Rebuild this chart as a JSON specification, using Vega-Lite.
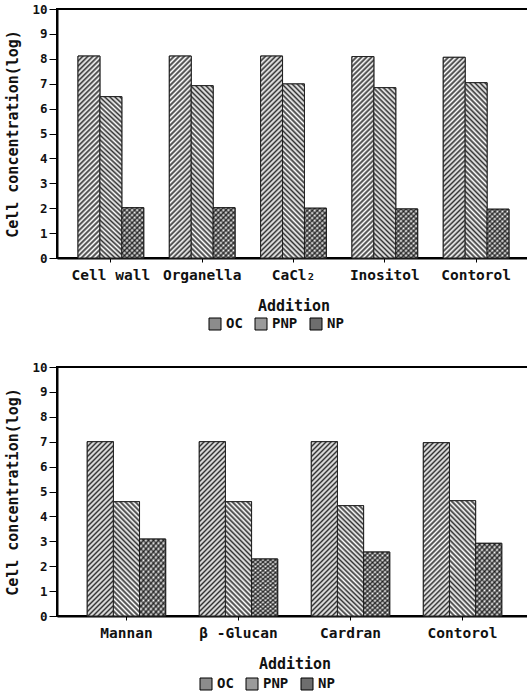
{
"$schema":"https://vega.github.io/schema/vega-lite/v6.json",
"background":"white",
"padding":{"left":4,"top":2,"right":0,"bottom":0},
"spacing":27,
"config":{
"font":"DejaVu Sans Mono",
"view":{"stroke":"#000","strokeWidth":2},
"axis":{"labelFont":"DejaVu Sans Mono","titleFont":"DejaVu Sans Mono","labelColor":"#111","titleColor":"#111","labelFontWeight":"bold","titleFontWeight":"bold","domainColor":"#000","tickColor":"#000","domainWidth":2,"grid":false},
"axisX":{"labelAngle":0,"labelFontSize":14.5,"tickSize":4,"labelPadding":6,"titleFontSize":15,"titlePadding":17,"labelOverlap":false},
"axisY":{"labelFontSize":12.5,"tickSize":8,"labelPadding":2,"titleFontSize":15,"titlePadding":11,"labelOverlap":false},
"legend":{"title":null,"direction":"horizontal","labelFont":"DejaVu Sans Mono","labelFontSize":14,"labelFontWeight":"bold","labelColor":"#111","symbolType":"square","symbolSize":144,"symbolStrokeColor":"#000","symbolStrokeWidth":1,"columnPadding":10,"labelOffset":4}
},
"resolve":{"scale":{"x":"independent","xOffset":"independent","fill":"independent"},"legend":{"fill":"independent"}},
"vconcat":[
{
"width":473,"height":249,
"data":{"values":[
{"addition":"Cell wall","series":"OC","value":8.11},{"addition":"Cell wall","series":"PNP","value":6.48},{"addition":"Cell wall","series":"NP","value":2.02},
{"addition":"Organella","series":"OC","value":8.11},{"addition":"Organella","series":"PNP","value":6.92},{"addition":"Organella","series":"NP","value":2.02},
{"addition":"CaCl₂","series":"OC","value":8.11},{"addition":"CaCl₂","series":"PNP","value":6.99},{"addition":"CaCl₂","series":"NP","value":2.0},
{"addition":"Inositol","series":"OC","value":8.09},{"addition":"Inositol","series":"PNP","value":6.84},{"addition":"Inositol","series":"NP","value":1.97},
{"addition":"Contorol","series":"OC","value":8.06},{"addition":"Contorol","series":"PNP","value":7.04},{"addition":"Contorol","series":"NP","value":1.96}
]},
"encoding":{
"x":{"field":"addition","type":"nominal","sort":["Cell wall","Organella","CaCl₂","Inositol","Contorol"],"scale":{"paddingInner":0.28,"paddingOuter":0.23},"title":"Addition"},
"xOffset":{"field":"series","type":"nominal","sort":["OC","PNP","NP"],"scale":{"domain":["OC","PNP","NP"]}},
"y":{"field":"value","type":"quantitative","scale":{"domain":[0,10]},"axis":{"values":[0,1,2,3,4,5,6,7,8,9,10]},"title":"Cell concentration(log)"}
},
"layer":[
{"mark":{"type":"bar","stroke":"#222","strokeWidth":1},
"encoding":{"fill":{"field":"series","type":"nominal","scale":{"domain":["OC","PNP","NP"],"range":["#8c8c8c","#9a9a9a","#6e6e6e"]},
"legend":{"orient":"none","legendX":151,"legendY":308}}}},
{"transform":[{"filter":"datum.series === 'OC'"}],"mark":{"type":"bar","stroke":"#222","strokeWidth":1},
"encoding":{"fill":{"value":{"gradient":"linear","x1":0,"y1":0,"x2":0.1312,"y2":1.2254,"stops":[{"offset":0,"color":"#333"},{"offset":0.01,"color":"#fff"},{"offset":0.02,"color":"#333"},{"offset":0.03,"color":"#fff"},{"offset":0.04,"color":"#333"},{"offset":0.05,"color":"#fff"},{"offset":0.06,"color":"#333"},{"offset":0.07,"color":"#fff"},{"offset":0.08,"color":"#333"},{"offset":0.09,"color":"#fff"},{"offset":0.1,"color":"#333"},{"offset":0.11,"color":"#fff"},{"offset":0.12,"color":"#333"},{"offset":0.13,"color":"#fff"},{"offset":0.14,"color":"#333"},{"offset":0.15,"color":"#fff"},{"offset":0.16,"color":"#333"},{"offset":0.17,"color":"#fff"},{"offset":0.18,"color":"#333"},{"offset":0.19,"color":"#fff"},{"offset":0.2,"color":"#333"},{"offset":0.21,"color":"#fff"},{"offset":0.22,"color":"#333"},{"offset":0.23,"color":"#fff"},{"offset":0.24,"color":"#333"},{"offset":0.25,"color":"#fff"},{"offset":0.26,"color":"#333"},{"offset":0.27,"color":"#fff"},{"offset":0.28,"color":"#333"},{"offset":0.29,"color":"#fff"},{"offset":0.3,"color":"#333"},{"offset":0.31,"color":"#fff"},{"offset":0.32,"color":"#333"},{"offset":0.33,"color":"#fff"},{"offset":0.34,"color":"#333"},{"offset":0.35,"color":"#fff"},{"offset":0.36,"color":"#333"},{"offset":0.37,"color":"#fff"},{"offset":0.38,"color":"#333"},{"offset":0.39,"color":"#fff"},{"offset":0.4,"color":"#333"},{"offset":0.41,"color":"#fff"},{"offset":0.42,"color":"#333"},{"offset":0.43,"color":"#fff"},{"offset":0.44,"color":"#333"},{"offset":0.45,"color":"#fff"},{"offset":0.46,"color":"#333"},{"offset":0.47,"color":"#fff"},{"offset":0.48,"color":"#333"},{"offset":0.49,"color":"#fff"},{"offset":0.5,"color":"#333"},{"offset":0.51,"color":"#fff"},{"offset":0.52,"color":"#333"},{"offset":0.53,"color":"#fff"},{"offset":0.54,"color":"#333"},{"offset":0.55,"color":"#fff"},{"offset":0.56,"color":"#333"},{"offset":0.57,"color":"#fff"},{"offset":0.58,"color":"#333"},{"offset":0.59,"color":"#fff"},{"offset":0.6,"color":"#333"},{"offset":0.61,"color":"#fff"},{"offset":0.62,"color":"#333"},{"offset":0.63,"color":"#fff"},{"offset":0.64,"color":"#333"},{"offset":0.65,"color":"#fff"},{"offset":0.66,"color":"#333"},{"offset":0.67,"color":"#fff"},{"offset":0.68,"color":"#333"},{"offset":0.69,"color":"#fff"},{"offset":0.7,"color":"#333"},{"offset":0.71,"color":"#fff"},{"offset":0.72,"color":"#333"},{"offset":0.73,"color":"#fff"},{"offset":0.74,"color":"#333"},{"offset":0.75,"color":"#fff"},{"offset":0.76,"color":"#333"},{"offset":0.77,"color":"#fff"},{"offset":0.78,"color":"#333"},{"offset":0.79,"color":"#fff"},{"offset":0.8,"color":"#333"},{"offset":0.81,"color":"#fff"},{"offset":0.82,"color":"#333"},{"offset":0.83,"color":"#fff"},{"offset":0.84,"color":"#333"},{"offset":0.85,"color":"#fff"},{"offset":0.86,"color":"#333"},{"offset":0.87,"color":"#fff"},{"offset":0.88,"color":"#333"},{"offset":0.89,"color":"#fff"},{"offset":0.9,"color":"#333"},{"offset":0.91,"color":"#fff"},{"offset":0.92,"color":"#333"},{"offset":0.93,"color":"#fff"},{"offset":0.94,"color":"#333"},{"offset":0.95,"color":"#fff"},{"offset":0.96,"color":"#333"},{"offset":0.97,"color":"#fff"},{"offset":0.98,"color":"#333"},{"offset":0.99,"color":"#fff"},{"offset":1,"color":"#333"}]}}}},
{"transform":[{"filter":"datum.series === 'PNP'"}],"mark":{"type":"bar","stroke":"#222","strokeWidth":1},
"encoding":{"fill":{"value":{"gradient":"linear","x1":0,"y1":1,"x2":0.1826,"y2":-0.4423,"stops":[{"offset":0,"color":"#333"},{"offset":0.01,"color":"#fff"},{"offset":0.02,"color":"#333"},{"offset":0.03,"color":"#fff"},{"offset":0.04,"color":"#333"},{"offset":0.05,"color":"#fff"},{"offset":0.06,"color":"#333"},{"offset":0.07,"color":"#fff"},{"offset":0.08,"color":"#333"},{"offset":0.09,"color":"#fff"},{"offset":0.1,"color":"#333"},{"offset":0.11,"color":"#fff"},{"offset":0.12,"color":"#333"},{"offset":0.13,"color":"#fff"},{"offset":0.14,"color":"#333"},{"offset":0.15,"color":"#fff"},{"offset":0.16,"color":"#333"},{"offset":0.17,"color":"#fff"},{"offset":0.18,"color":"#333"},{"offset":0.19,"color":"#fff"},{"offset":0.2,"color":"#333"},{"offset":0.21,"color":"#fff"},{"offset":0.22,"color":"#333"},{"offset":0.23,"color":"#fff"},{"offset":0.24,"color":"#333"},{"offset":0.25,"color":"#fff"},{"offset":0.26,"color":"#333"},{"offset":0.27,"color":"#fff"},{"offset":0.28,"color":"#333"},{"offset":0.29,"color":"#fff"},{"offset":0.3,"color":"#333"},{"offset":0.31,"color":"#fff"},{"offset":0.32,"color":"#333"},{"offset":0.33,"color":"#fff"},{"offset":0.34,"color":"#333"},{"offset":0.35,"color":"#fff"},{"offset":0.36,"color":"#333"},{"offset":0.37,"color":"#fff"},{"offset":0.38,"color":"#333"},{"offset":0.39,"color":"#fff"},{"offset":0.4,"color":"#333"},{"offset":0.41,"color":"#fff"},{"offset":0.42,"color":"#333"},{"offset":0.43,"color":"#fff"},{"offset":0.44,"color":"#333"},{"offset":0.45,"color":"#fff"},{"offset":0.46,"color":"#333"},{"offset":0.47,"color":"#fff"},{"offset":0.48,"color":"#333"},{"offset":0.49,"color":"#fff"},{"offset":0.5,"color":"#333"},{"offset":0.51,"color":"#fff"},{"offset":0.52,"color":"#333"},{"offset":0.53,"color":"#fff"},{"offset":0.54,"color":"#333"},{"offset":0.55,"color":"#fff"},{"offset":0.56,"color":"#333"},{"offset":0.57,"color":"#fff"},{"offset":0.58,"color":"#333"},{"offset":0.59,"color":"#fff"},{"offset":0.6,"color":"#333"},{"offset":0.61,"color":"#fff"},{"offset":0.62,"color":"#333"},{"offset":0.63,"color":"#fff"},{"offset":0.64,"color":"#333"},{"offset":0.65,"color":"#fff"},{"offset":0.66,"color":"#333"},{"offset":0.67,"color":"#fff"},{"offset":0.68,"color":"#333"},{"offset":0.69,"color":"#fff"},{"offset":0.7,"color":"#333"},{"offset":0.71,"color":"#fff"},{"offset":0.72,"color":"#333"},{"offset":0.73,"color":"#fff"},{"offset":0.74,"color":"#333"},{"offset":0.75,"color":"#fff"},{"offset":0.76,"color":"#333"},{"offset":0.77,"color":"#fff"},{"offset":0.78,"color":"#333"},{"offset":0.79,"color":"#fff"},{"offset":0.8,"color":"#333"},{"offset":0.81,"color":"#fff"},{"offset":0.82,"color":"#333"},{"offset":0.83,"color":"#fff"},{"offset":0.84,"color":"#333"},{"offset":0.85,"color":"#fff"},{"offset":0.86,"color":"#333"},{"offset":0.87,"color":"#fff"},{"offset":0.88,"color":"#333"},{"offset":0.89,"color":"#fff"},{"offset":0.9,"color":"#333"},{"offset":0.91,"color":"#fff"},{"offset":0.92,"color":"#333"},{"offset":0.93,"color":"#fff"},{"offset":0.94,"color":"#333"},{"offset":0.95,"color":"#fff"},{"offset":0.96,"color":"#333"},{"offset":0.97,"color":"#fff"},{"offset":0.98,"color":"#333"},{"offset":0.99,"color":"#fff"},{"offset":1,"color":"#333"}]}}}},
{"transform":[{"filter":"datum.series === 'NP'"}],"mark":{"type":"bar","stroke":"#222","strokeWidth":1},
"encoding":{"fill":{"value":{"gradient":"linear","x1":0,"y1":0,"x2":1.8326,"y2":4.225,"stops":[{"offset":0,"color":"#444"},{"offset":0.01,"color":"#fff"},{"offset":0.02,"color":"#444"},{"offset":0.03,"color":"#fff"},{"offset":0.04,"color":"#444"},{"offset":0.05,"color":"#fff"},{"offset":0.06,"color":"#444"},{"offset":0.07,"color":"#fff"},{"offset":0.08,"color":"#444"},{"offset":0.09,"color":"#fff"},{"offset":0.1,"color":"#444"},{"offset":0.11,"color":"#fff"},{"offset":0.12,"color":"#444"},{"offset":0.13,"color":"#fff"},{"offset":0.14,"color":"#444"},{"offset":0.15,"color":"#fff"},{"offset":0.16,"color":"#444"},{"offset":0.17,"color":"#fff"},{"offset":0.18,"color":"#444"},{"offset":0.19,"color":"#fff"},{"offset":0.2,"color":"#444"},{"offset":0.21,"color":"#fff"},{"offset":0.22,"color":"#444"},{"offset":0.23,"color":"#fff"},{"offset":0.24,"color":"#444"},{"offset":0.25,"color":"#fff"},{"offset":0.26,"color":"#444"},{"offset":0.27,"color":"#fff"},{"offset":0.28,"color":"#444"},{"offset":0.29,"color":"#fff"},{"offset":0.3,"color":"#444"},{"offset":0.31,"color":"#fff"},{"offset":0.32,"color":"#444"},{"offset":0.33,"color":"#fff"},{"offset":0.34,"color":"#444"},{"offset":0.35,"color":"#fff"},{"offset":0.36,"color":"#444"},{"offset":0.37,"color":"#fff"},{"offset":0.38,"color":"#444"},{"offset":0.39,"color":"#fff"},{"offset":0.4,"color":"#444"},{"offset":0.41,"color":"#fff"},{"offset":0.42,"color":"#444"},{"offset":0.43,"color":"#fff"},{"offset":0.44,"color":"#444"},{"offset":0.45,"color":"#fff"},{"offset":0.46,"color":"#444"},{"offset":0.47,"color":"#fff"},{"offset":0.48,"color":"#444"},{"offset":0.49,"color":"#fff"},{"offset":0.5,"color":"#444"},{"offset":0.51,"color":"#fff"},{"offset":0.52,"color":"#444"},{"offset":0.53,"color":"#fff"},{"offset":0.54,"color":"#444"},{"offset":0.55,"color":"#fff"},{"offset":0.56,"color":"#444"},{"offset":0.57,"color":"#fff"},{"offset":0.58,"color":"#444"},{"offset":0.59,"color":"#fff"},{"offset":0.6,"color":"#444"},{"offset":0.61,"color":"#fff"},{"offset":0.62,"color":"#444"},{"offset":0.63,"color":"#fff"},{"offset":0.64,"color":"#444"},{"offset":0.65,"color":"#fff"},{"offset":0.66,"color":"#444"},{"offset":0.67,"color":"#fff"},{"offset":0.68,"color":"#444"},{"offset":0.69,"color":"#fff"},{"offset":0.7,"color":"#444"},{"offset":0.71,"color":"#fff"},{"offset":0.72,"color":"#444"},{"offset":0.73,"color":"#fff"},{"offset":0.74,"color":"#444"},{"offset":0.75,"color":"#fff"},{"offset":0.76,"color":"#444"},{"offset":0.77,"color":"#fff"},{"offset":0.78,"color":"#444"},{"offset":0.79,"color":"#fff"},{"offset":0.8,"color":"#444"},{"offset":0.81,"color":"#fff"},{"offset":0.82,"color":"#444"},{"offset":0.83,"color":"#fff"},{"offset":0.84,"color":"#444"},{"offset":0.85,"color":"#fff"},{"offset":0.86,"color":"#444"},{"offset":0.87,"color":"#fff"},{"offset":0.88,"color":"#444"},{"offset":0.89,"color":"#fff"},{"offset":0.9,"color":"#444"},{"offset":0.91,"color":"#fff"},{"offset":0.92,"color":"#444"},{"offset":0.93,"color":"#fff"},{"offset":0.94,"color":"#444"},{"offset":0.95,"color":"#fff"},{"offset":0.96,"color":"#444"},{"offset":0.97,"color":"#fff"},{"offset":0.98,"color":"#444"},{"offset":0.99,"color":"#fff"},{"offset":1,"color":"#444"}]}}}},
{"transform":[{"filter":"datum.series === 'NP'"}],"mark":{"type":"bar"},
"encoding":{"fill":{"value":{"gradient":"linear","x1":0,"y1":1,"x2":1.8326,"y2":-3.225,"stops":[{"offset":0,"color":"rgba(0,0,0,0.6)"},{"offset":0.01,"color":"rgba(0,0,0,0)"},{"offset":0.02,"color":"rgba(0,0,0,0.6)"},{"offset":0.03,"color":"rgba(0,0,0,0)"},{"offset":0.04,"color":"rgba(0,0,0,0.6)"},{"offset":0.05,"color":"rgba(0,0,0,0)"},{"offset":0.06,"color":"rgba(0,0,0,0.6)"},{"offset":0.07,"color":"rgba(0,0,0,0)"},{"offset":0.08,"color":"rgba(0,0,0,0.6)"},{"offset":0.09,"color":"rgba(0,0,0,0)"},{"offset":0.1,"color":"rgba(0,0,0,0.6)"},{"offset":0.11,"color":"rgba(0,0,0,0)"},{"offset":0.12,"color":"rgba(0,0,0,0.6)"},{"offset":0.13,"color":"rgba(0,0,0,0)"},{"offset":0.14,"color":"rgba(0,0,0,0.6)"},{"offset":0.15,"color":"rgba(0,0,0,0)"},{"offset":0.16,"color":"rgba(0,0,0,0.6)"},{"offset":0.17,"color":"rgba(0,0,0,0)"},{"offset":0.18,"color":"rgba(0,0,0,0.6)"},{"offset":0.19,"color":"rgba(0,0,0,0)"},{"offset":0.2,"color":"rgba(0,0,0,0.6)"},{"offset":0.21,"color":"rgba(0,0,0,0)"},{"offset":0.22,"color":"rgba(0,0,0,0.6)"},{"offset":0.23,"color":"rgba(0,0,0,0)"},{"offset":0.24,"color":"rgba(0,0,0,0.6)"},{"offset":0.25,"color":"rgba(0,0,0,0)"},{"offset":0.26,"color":"rgba(0,0,0,0.6)"},{"offset":0.27,"color":"rgba(0,0,0,0)"},{"offset":0.28,"color":"rgba(0,0,0,0.6)"},{"offset":0.29,"color":"rgba(0,0,0,0)"},{"offset":0.3,"color":"rgba(0,0,0,0.6)"},{"offset":0.31,"color":"rgba(0,0,0,0)"},{"offset":0.32,"color":"rgba(0,0,0,0.6)"},{"offset":0.33,"color":"rgba(0,0,0,0)"},{"offset":0.34,"color":"rgba(0,0,0,0.6)"},{"offset":0.35,"color":"rgba(0,0,0,0)"},{"offset":0.36,"color":"rgba(0,0,0,0.6)"},{"offset":0.37,"color":"rgba(0,0,0,0)"},{"offset":0.38,"color":"rgba(0,0,0,0.6)"},{"offset":0.39,"color":"rgba(0,0,0,0)"},{"offset":0.4,"color":"rgba(0,0,0,0.6)"},{"offset":0.41,"color":"rgba(0,0,0,0)"},{"offset":0.42,"color":"rgba(0,0,0,0.6)"},{"offset":0.43,"color":"rgba(0,0,0,0)"},{"offset":0.44,"color":"rgba(0,0,0,0.6)"},{"offset":0.45,"color":"rgba(0,0,0,0)"},{"offset":0.46,"color":"rgba(0,0,0,0.6)"},{"offset":0.47,"color":"rgba(0,0,0,0)"},{"offset":0.48,"color":"rgba(0,0,0,0.6)"},{"offset":0.49,"color":"rgba(0,0,0,0)"},{"offset":0.5,"color":"rgba(0,0,0,0.6)"},{"offset":0.51,"color":"rgba(0,0,0,0)"},{"offset":0.52,"color":"rgba(0,0,0,0.6)"},{"offset":0.53,"color":"rgba(0,0,0,0)"},{"offset":0.54,"color":"rgba(0,0,0,0.6)"},{"offset":0.55,"color":"rgba(0,0,0,0)"},{"offset":0.56,"color":"rgba(0,0,0,0.6)"},{"offset":0.57,"color":"rgba(0,0,0,0)"},{"offset":0.58,"color":"rgba(0,0,0,0.6)"},{"offset":0.59,"color":"rgba(0,0,0,0)"},{"offset":0.6,"color":"rgba(0,0,0,0.6)"},{"offset":0.61,"color":"rgba(0,0,0,0)"},{"offset":0.62,"color":"rgba(0,0,0,0.6)"},{"offset":0.63,"color":"rgba(0,0,0,0)"},{"offset":0.64,"color":"rgba(0,0,0,0.6)"},{"offset":0.65,"color":"rgba(0,0,0,0)"},{"offset":0.66,"color":"rgba(0,0,0,0.6)"},{"offset":0.67,"color":"rgba(0,0,0,0)"},{"offset":0.68,"color":"rgba(0,0,0,0.6)"},{"offset":0.69,"color":"rgba(0,0,0,0)"},{"offset":0.7,"color":"rgba(0,0,0,0.6)"},{"offset":0.71,"color":"rgba(0,0,0,0)"},{"offset":0.72,"color":"rgba(0,0,0,0.6)"},{"offset":0.73,"color":"rgba(0,0,0,0)"},{"offset":0.74,"color":"rgba(0,0,0,0.6)"},{"offset":0.75,"color":"rgba(0,0,0,0)"},{"offset":0.76,"color":"rgba(0,0,0,0.6)"},{"offset":0.77,"color":"rgba(0,0,0,0)"},{"offset":0.78,"color":"rgba(0,0,0,0.6)"},{"offset":0.79,"color":"rgba(0,0,0,0)"},{"offset":0.8,"color":"rgba(0,0,0,0.6)"},{"offset":0.81,"color":"rgba(0,0,0,0)"},{"offset":0.82,"color":"rgba(0,0,0,0.6)"},{"offset":0.83,"color":"rgba(0,0,0,0)"},{"offset":0.84,"color":"rgba(0,0,0,0.6)"},{"offset":0.85,"color":"rgba(0,0,0,0)"},{"offset":0.86,"color":"rgba(0,0,0,0.6)"},{"offset":0.87,"color":"rgba(0,0,0,0)"},{"offset":0.88,"color":"rgba(0,0,0,0.6)"},{"offset":0.89,"color":"rgba(0,0,0,0)"},{"offset":0.9,"color":"rgba(0,0,0,0.6)"},{"offset":0.91,"color":"rgba(0,0,0,0)"},{"offset":0.92,"color":"rgba(0,0,0,0.6)"},{"offset":0.93,"color":"rgba(0,0,0,0)"},{"offset":0.94,"color":"rgba(0,0,0,0.6)"},{"offset":0.95,"color":"rgba(0,0,0,0)"},{"offset":0.96,"color":"rgba(0,0,0,0.6)"},{"offset":0.97,"color":"rgba(0,0,0,0)"},{"offset":0.98,"color":"rgba(0,0,0,0.6)"},{"offset":0.99,"color":"rgba(0,0,0,0)"},{"offset":1,"color":"rgba(0,0,0,0.6)"}]}}}}
]
},
{
"width":475,"height":249,
"data":{"values":[
{"addition":"Mannan","series":"OC","value":7.0},{"addition":"Mannan","series":"PNP","value":4.59},{"addition":"Mannan","series":"NP","value":3.09},
{"addition":"β -Glucan","series":"OC","value":7.0},{"addition":"β -Glucan","series":"PNP","value":4.59},{"addition":"β -Glucan","series":"NP","value":2.29},
{"addition":"Cardran","series":"OC","value":7.0},{"addition":"Cardran","series":"PNP","value":4.43},{"addition":"Cardran","series":"NP","value":2.57},
{"addition":"Contorol","series":"OC","value":6.96},{"addition":"Contorol","series":"PNP","value":4.63},{"addition":"Contorol","series":"NP","value":2.92}
]},
"encoding":{
"x":{"field":"addition","type":"nominal","sort":["Mannan","β -Glucan","Cardran","Contorol"],"scale":{"paddingInner":0.3,"paddingOuter":0.27},"title":"Addition"},
"xOffset":{"field":"series","type":"nominal","sort":["OC","PNP","NP"],"scale":{"domain":["OC","PNP","NP"]}},
"y":{"field":"value","type":"quantitative","scale":{"domain":[0,10]},"axis":{"values":[0,1,2,3,4,5,6,7,8,9,10]},"title":"Cell concentration(log)"}
},
"layer":[
{"mark":{"type":"bar","stroke":"#222","strokeWidth":1},
"encoding":{"fill":{"field":"series","type":"nominal","scale":{"domain":["OC","PNP","NP"],"range":["#8c8c8c","#9a9a9a","#6e6e6e"]},
"legend":{"orient":"none","legendX":142,"legendY":310}}}},
{"transform":[{"filter":"datum.series === 'OC'"}],"mark":{"type":"bar","stroke":"#222","strokeWidth":1},
"encoding":{"fill":{"value":{"gradient":"linear","x1":0,"y1":0,"x2":0.2101,"y2":1.4029,"stops":[{"offset":0,"color":"#333"},{"offset":0.01,"color":"#fff"},{"offset":0.02,"color":"#333"},{"offset":0.03,"color":"#fff"},{"offset":0.04,"color":"#333"},{"offset":0.05,"color":"#fff"},{"offset":0.06,"color":"#333"},{"offset":0.07,"color":"#fff"},{"offset":0.08,"color":"#333"},{"offset":0.09,"color":"#fff"},{"offset":0.1,"color":"#333"},{"offset":0.11,"color":"#fff"},{"offset":0.12,"color":"#333"},{"offset":0.13,"color":"#fff"},{"offset":0.14,"color":"#333"},{"offset":0.15,"color":"#fff"},{"offset":0.16,"color":"#333"},{"offset":0.17,"color":"#fff"},{"offset":0.18,"color":"#333"},{"offset":0.19,"color":"#fff"},{"offset":0.2,"color":"#333"},{"offset":0.21,"color":"#fff"},{"offset":0.22,"color":"#333"},{"offset":0.23,"color":"#fff"},{"offset":0.24,"color":"#333"},{"offset":0.25,"color":"#fff"},{"offset":0.26,"color":"#333"},{"offset":0.27,"color":"#fff"},{"offset":0.28,"color":"#333"},{"offset":0.29,"color":"#fff"},{"offset":0.3,"color":"#333"},{"offset":0.31,"color":"#fff"},{"offset":0.32,"color":"#333"},{"offset":0.33,"color":"#fff"},{"offset":0.34,"color":"#333"},{"offset":0.35,"color":"#fff"},{"offset":0.36,"color":"#333"},{"offset":0.37,"color":"#fff"},{"offset":0.38,"color":"#333"},{"offset":0.39,"color":"#fff"},{"offset":0.4,"color":"#333"},{"offset":0.41,"color":"#fff"},{"offset":0.42,"color":"#333"},{"offset":0.43,"color":"#fff"},{"offset":0.44,"color":"#333"},{"offset":0.45,"color":"#fff"},{"offset":0.46,"color":"#333"},{"offset":0.47,"color":"#fff"},{"offset":0.48,"color":"#333"},{"offset":0.49,"color":"#fff"},{"offset":0.5,"color":"#333"},{"offset":0.51,"color":"#fff"},{"offset":0.52,"color":"#333"},{"offset":0.53,"color":"#fff"},{"offset":0.54,"color":"#333"},{"offset":0.55,"color":"#fff"},{"offset":0.56,"color":"#333"},{"offset":0.57,"color":"#fff"},{"offset":0.58,"color":"#333"},{"offset":0.59,"color":"#fff"},{"offset":0.6,"color":"#333"},{"offset":0.61,"color":"#fff"},{"offset":0.62,"color":"#333"},{"offset":0.63,"color":"#fff"},{"offset":0.64,"color":"#333"},{"offset":0.65,"color":"#fff"},{"offset":0.66,"color":"#333"},{"offset":0.67,"color":"#fff"},{"offset":0.68,"color":"#333"},{"offset":0.69,"color":"#fff"},{"offset":0.7,"color":"#333"},{"offset":0.71,"color":"#fff"},{"offset":0.72,"color":"#333"},{"offset":0.73,"color":"#fff"},{"offset":0.74,"color":"#333"},{"offset":0.75,"color":"#fff"},{"offset":0.76,"color":"#333"},{"offset":0.77,"color":"#fff"},{"offset":0.78,"color":"#333"},{"offset":0.79,"color":"#fff"},{"offset":0.8,"color":"#333"},{"offset":0.81,"color":"#fff"},{"offset":0.82,"color":"#333"},{"offset":0.83,"color":"#fff"},{"offset":0.84,"color":"#333"},{"offset":0.85,"color":"#fff"},{"offset":0.86,"color":"#333"},{"offset":0.87,"color":"#fff"},{"offset":0.88,"color":"#333"},{"offset":0.89,"color":"#fff"},{"offset":0.9,"color":"#333"},{"offset":0.91,"color":"#fff"},{"offset":0.92,"color":"#333"},{"offset":0.93,"color":"#fff"},{"offset":0.94,"color":"#333"},{"offset":0.95,"color":"#fff"},{"offset":0.96,"color":"#333"},{"offset":0.97,"color":"#fff"},{"offset":0.98,"color":"#333"},{"offset":0.99,"color":"#fff"},{"offset":1,"color":"#333"}]}}}},
{"transform":[{"filter":"datum.series === 'PNP'"}],"mark":{"type":"bar","stroke":"#222","strokeWidth":1},
"encoding":{"fill":{"value":{"gradient":"linear","x1":0,"y1":1,"x2":0.4827,"y2":-1.0954,"stops":[{"offset":0,"color":"#333"},{"offset":0.01,"color":"#fff"},{"offset":0.02,"color":"#333"},{"offset":0.03,"color":"#fff"},{"offset":0.04,"color":"#333"},{"offset":0.05,"color":"#fff"},{"offset":0.06,"color":"#333"},{"offset":0.07,"color":"#fff"},{"offset":0.08,"color":"#333"},{"offset":0.09,"color":"#fff"},{"offset":0.1,"color":"#333"},{"offset":0.11,"color":"#fff"},{"offset":0.12,"color":"#333"},{"offset":0.13,"color":"#fff"},{"offset":0.14,"color":"#333"},{"offset":0.15,"color":"#fff"},{"offset":0.16,"color":"#333"},{"offset":0.17,"color":"#fff"},{"offset":0.18,"color":"#333"},{"offset":0.19,"color":"#fff"},{"offset":0.2,"color":"#333"},{"offset":0.21,"color":"#fff"},{"offset":0.22,"color":"#333"},{"offset":0.23,"color":"#fff"},{"offset":0.24,"color":"#333"},{"offset":0.25,"color":"#fff"},{"offset":0.26,"color":"#333"},{"offset":0.27,"color":"#fff"},{"offset":0.28,"color":"#333"},{"offset":0.29,"color":"#fff"},{"offset":0.3,"color":"#333"},{"offset":0.31,"color":"#fff"},{"offset":0.32,"color":"#333"},{"offset":0.33,"color":"#fff"},{"offset":0.34,"color":"#333"},{"offset":0.35,"color":"#fff"},{"offset":0.36,"color":"#333"},{"offset":0.37,"color":"#fff"},{"offset":0.38,"color":"#333"},{"offset":0.39,"color":"#fff"},{"offset":0.4,"color":"#333"},{"offset":0.41,"color":"#fff"},{"offset":0.42,"color":"#333"},{"offset":0.43,"color":"#fff"},{"offset":0.44,"color":"#333"},{"offset":0.45,"color":"#fff"},{"offset":0.46,"color":"#333"},{"offset":0.47,"color":"#fff"},{"offset":0.48,"color":"#333"},{"offset":0.49,"color":"#fff"},{"offset":0.5,"color":"#333"},{"offset":0.51,"color":"#fff"},{"offset":0.52,"color":"#333"},{"offset":0.53,"color":"#fff"},{"offset":0.54,"color":"#333"},{"offset":0.55,"color":"#fff"},{"offset":0.56,"color":"#333"},{"offset":0.57,"color":"#fff"},{"offset":0.58,"color":"#333"},{"offset":0.59,"color":"#fff"},{"offset":0.6,"color":"#333"},{"offset":0.61,"color":"#fff"},{"offset":0.62,"color":"#333"},{"offset":0.63,"color":"#fff"},{"offset":0.64,"color":"#333"},{"offset":0.65,"color":"#fff"},{"offset":0.66,"color":"#333"},{"offset":0.67,"color":"#fff"},{"offset":0.68,"color":"#333"},{"offset":0.69,"color":"#fff"},{"offset":0.7,"color":"#333"},{"offset":0.71,"color":"#fff"},{"offset":0.72,"color":"#333"},{"offset":0.73,"color":"#fff"},{"offset":0.74,"color":"#333"},{"offset":0.75,"color":"#fff"},{"offset":0.76,"color":"#333"},{"offset":0.77,"color":"#fff"},{"offset":0.78,"color":"#333"},{"offset":0.79,"color":"#fff"},{"offset":0.8,"color":"#333"},{"offset":0.81,"color":"#fff"},{"offset":0.82,"color":"#333"},{"offset":0.83,"color":"#fff"},{"offset":0.84,"color":"#333"},{"offset":0.85,"color":"#fff"},{"offset":0.86,"color":"#333"},{"offset":0.87,"color":"#fff"},{"offset":0.88,"color":"#333"},{"offset":0.89,"color":"#fff"},{"offset":0.9,"color":"#333"},{"offset":0.91,"color":"#fff"},{"offset":0.92,"color":"#333"},{"offset":0.93,"color":"#fff"},{"offset":0.94,"color":"#333"},{"offset":0.95,"color":"#fff"},{"offset":0.96,"color":"#333"},{"offset":0.97,"color":"#fff"},{"offset":0.98,"color":"#333"},{"offset":0.99,"color":"#fff"},{"offset":1,"color":"#333"}]}}}},
{"transform":[{"filter":"datum.series === 'NP'"}],"mark":{"type":"bar","stroke":"#222","strokeWidth":1},
"encoding":{"fill":{"value":{"gradient":"linear","x1":0,"y1":0,"x2":1.2555,"y2":3.2327,"stops":[{"offset":0,"color":"#444"},{"offset":0.01,"color":"#fff"},{"offset":0.02,"color":"#444"},{"offset":0.03,"color":"#fff"},{"offset":0.04,"color":"#444"},{"offset":0.05,"color":"#fff"},{"offset":0.06,"color":"#444"},{"offset":0.07,"color":"#fff"},{"offset":0.08,"color":"#444"},{"offset":0.09,"color":"#fff"},{"offset":0.1,"color":"#444"},{"offset":0.11,"color":"#fff"},{"offset":0.12,"color":"#444"},{"offset":0.13,"color":"#fff"},{"offset":0.14,"color":"#444"},{"offset":0.15,"color":"#fff"},{"offset":0.16,"color":"#444"},{"offset":0.17,"color":"#fff"},{"offset":0.18,"color":"#444"},{"offset":0.19,"color":"#fff"},{"offset":0.2,"color":"#444"},{"offset":0.21,"color":"#fff"},{"offset":0.22,"color":"#444"},{"offset":0.23,"color":"#fff"},{"offset":0.24,"color":"#444"},{"offset":0.25,"color":"#fff"},{"offset":0.26,"color":"#444"},{"offset":0.27,"color":"#fff"},{"offset":0.28,"color":"#444"},{"offset":0.29,"color":"#fff"},{"offset":0.3,"color":"#444"},{"offset":0.31,"color":"#fff"},{"offset":0.32,"color":"#444"},{"offset":0.33,"color":"#fff"},{"offset":0.34,"color":"#444"},{"offset":0.35,"color":"#fff"},{"offset":0.36,"color":"#444"},{"offset":0.37,"color":"#fff"},{"offset":0.38,"color":"#444"},{"offset":0.39,"color":"#fff"},{"offset":0.4,"color":"#444"},{"offset":0.41,"color":"#fff"},{"offset":0.42,"color":"#444"},{"offset":0.43,"color":"#fff"},{"offset":0.44,"color":"#444"},{"offset":0.45,"color":"#fff"},{"offset":0.46,"color":"#444"},{"offset":0.47,"color":"#fff"},{"offset":0.48,"color":"#444"},{"offset":0.49,"color":"#fff"},{"offset":0.5,"color":"#444"},{"offset":0.51,"color":"#fff"},{"offset":0.52,"color":"#444"},{"offset":0.53,"color":"#fff"},{"offset":0.54,"color":"#444"},{"offset":0.55,"color":"#fff"},{"offset":0.56,"color":"#444"},{"offset":0.57,"color":"#fff"},{"offset":0.58,"color":"#444"},{"offset":0.59,"color":"#fff"},{"offset":0.6,"color":"#444"},{"offset":0.61,"color":"#fff"},{"offset":0.62,"color":"#444"},{"offset":0.63,"color":"#fff"},{"offset":0.64,"color":"#444"},{"offset":0.65,"color":"#fff"},{"offset":0.66,"color":"#444"},{"offset":0.67,"color":"#fff"},{"offset":0.68,"color":"#444"},{"offset":0.69,"color":"#fff"},{"offset":0.7,"color":"#444"},{"offset":0.71,"color":"#fff"},{"offset":0.72,"color":"#444"},{"offset":0.73,"color":"#fff"},{"offset":0.74,"color":"#444"},{"offset":0.75,"color":"#fff"},{"offset":0.76,"color":"#444"},{"offset":0.77,"color":"#fff"},{"offset":0.78,"color":"#444"},{"offset":0.79,"color":"#fff"},{"offset":0.8,"color":"#444"},{"offset":0.81,"color":"#fff"},{"offset":0.82,"color":"#444"},{"offset":0.83,"color":"#fff"},{"offset":0.84,"color":"#444"},{"offset":0.85,"color":"#fff"},{"offset":0.86,"color":"#444"},{"offset":0.87,"color":"#fff"},{"offset":0.88,"color":"#444"},{"offset":0.89,"color":"#fff"},{"offset":0.9,"color":"#444"},{"offset":0.91,"color":"#fff"},{"offset":0.92,"color":"#444"},{"offset":0.93,"color":"#fff"},{"offset":0.94,"color":"#444"},{"offset":0.95,"color":"#fff"},{"offset":0.96,"color":"#444"},{"offset":0.97,"color":"#fff"},{"offset":0.98,"color":"#444"},{"offset":0.99,"color":"#fff"},{"offset":1,"color":"#444"}]}}}},
{"transform":[{"filter":"datum.series === 'NP'"}],"mark":{"type":"bar"},
"encoding":{"fill":{"value":{"gradient":"linear","x1":0,"y1":1,"x2":1.2555,"y2":-2.2327,"stops":[{"offset":0,"color":"rgba(0,0,0,0.6)"},{"offset":0.01,"color":"rgba(0,0,0,0)"},{"offset":0.02,"color":"rgba(0,0,0,0.6)"},{"offset":0.03,"color":"rgba(0,0,0,0)"},{"offset":0.04,"color":"rgba(0,0,0,0.6)"},{"offset":0.05,"color":"rgba(0,0,0,0)"},{"offset":0.06,"color":"rgba(0,0,0,0.6)"},{"offset":0.07,"color":"rgba(0,0,0,0)"},{"offset":0.08,"color":"rgba(0,0,0,0.6)"},{"offset":0.09,"color":"rgba(0,0,0,0)"},{"offset":0.1,"color":"rgba(0,0,0,0.6)"},{"offset":0.11,"color":"rgba(0,0,0,0)"},{"offset":0.12,"color":"rgba(0,0,0,0.6)"},{"offset":0.13,"color":"rgba(0,0,0,0)"},{"offset":0.14,"color":"rgba(0,0,0,0.6)"},{"offset":0.15,"color":"rgba(0,0,0,0)"},{"offset":0.16,"color":"rgba(0,0,0,0.6)"},{"offset":0.17,"color":"rgba(0,0,0,0)"},{"offset":0.18,"color":"rgba(0,0,0,0.6)"},{"offset":0.19,"color":"rgba(0,0,0,0)"},{"offset":0.2,"color":"rgba(0,0,0,0.6)"},{"offset":0.21,"color":"rgba(0,0,0,0)"},{"offset":0.22,"color":"rgba(0,0,0,0.6)"},{"offset":0.23,"color":"rgba(0,0,0,0)"},{"offset":0.24,"color":"rgba(0,0,0,0.6)"},{"offset":0.25,"color":"rgba(0,0,0,0)"},{"offset":0.26,"color":"rgba(0,0,0,0.6)"},{"offset":0.27,"color":"rgba(0,0,0,0)"},{"offset":0.28,"color":"rgba(0,0,0,0.6)"},{"offset":0.29,"color":"rgba(0,0,0,0)"},{"offset":0.3,"color":"rgba(0,0,0,0.6)"},{"offset":0.31,"color":"rgba(0,0,0,0)"},{"offset":0.32,"color":"rgba(0,0,0,0.6)"},{"offset":0.33,"color":"rgba(0,0,0,0)"},{"offset":0.34,"color":"rgba(0,0,0,0.6)"},{"offset":0.35,"color":"rgba(0,0,0,0)"},{"offset":0.36,"color":"rgba(0,0,0,0.6)"},{"offset":0.37,"color":"rgba(0,0,0,0)"},{"offset":0.38,"color":"rgba(0,0,0,0.6)"},{"offset":0.39,"color":"rgba(0,0,0,0)"},{"offset":0.4,"color":"rgba(0,0,0,0.6)"},{"offset":0.41,"color":"rgba(0,0,0,0)"},{"offset":0.42,"color":"rgba(0,0,0,0.6)"},{"offset":0.43,"color":"rgba(0,0,0,0)"},{"offset":0.44,"color":"rgba(0,0,0,0.6)"},{"offset":0.45,"color":"rgba(0,0,0,0)"},{"offset":0.46,"color":"rgba(0,0,0,0.6)"},{"offset":0.47,"color":"rgba(0,0,0,0)"},{"offset":0.48,"color":"rgba(0,0,0,0.6)"},{"offset":0.49,"color":"rgba(0,0,0,0)"},{"offset":0.5,"color":"rgba(0,0,0,0.6)"},{"offset":0.51,"color":"rgba(0,0,0,0)"},{"offset":0.52,"color":"rgba(0,0,0,0.6)"},{"offset":0.53,"color":"rgba(0,0,0,0)"},{"offset":0.54,"color":"rgba(0,0,0,0.6)"},{"offset":0.55,"color":"rgba(0,0,0,0)"},{"offset":0.56,"color":"rgba(0,0,0,0.6)"},{"offset":0.57,"color":"rgba(0,0,0,0)"},{"offset":0.58,"color":"rgba(0,0,0,0.6)"},{"offset":0.59,"color":"rgba(0,0,0,0)"},{"offset":0.6,"color":"rgba(0,0,0,0.6)"},{"offset":0.61,"color":"rgba(0,0,0,0)"},{"offset":0.62,"color":"rgba(0,0,0,0.6)"},{"offset":0.63,"color":"rgba(0,0,0,0)"},{"offset":0.64,"color":"rgba(0,0,0,0.6)"},{"offset":0.65,"color":"rgba(0,0,0,0)"},{"offset":0.66,"color":"rgba(0,0,0,0.6)"},{"offset":0.67,"color":"rgba(0,0,0,0)"},{"offset":0.68,"color":"rgba(0,0,0,0.6)"},{"offset":0.69,"color":"rgba(0,0,0,0)"},{"offset":0.7,"color":"rgba(0,0,0,0.6)"},{"offset":0.71,"color":"rgba(0,0,0,0)"},{"offset":0.72,"color":"rgba(0,0,0,0.6)"},{"offset":0.73,"color":"rgba(0,0,0,0)"},{"offset":0.74,"color":"rgba(0,0,0,0.6)"},{"offset":0.75,"color":"rgba(0,0,0,0)"},{"offset":0.76,"color":"rgba(0,0,0,0.6)"},{"offset":0.77,"color":"rgba(0,0,0,0)"},{"offset":0.78,"color":"rgba(0,0,0,0.6)"},{"offset":0.79,"color":"rgba(0,0,0,0)"},{"offset":0.8,"color":"rgba(0,0,0,0.6)"},{"offset":0.81,"color":"rgba(0,0,0,0)"},{"offset":0.82,"color":"rgba(0,0,0,0.6)"},{"offset":0.83,"color":"rgba(0,0,0,0)"},{"offset":0.84,"color":"rgba(0,0,0,0.6)"},{"offset":0.85,"color":"rgba(0,0,0,0)"},{"offset":0.86,"color":"rgba(0,0,0,0.6)"},{"offset":0.87,"color":"rgba(0,0,0,0)"},{"offset":0.88,"color":"rgba(0,0,0,0.6)"},{"offset":0.89,"color":"rgba(0,0,0,0)"},{"offset":0.9,"color":"rgba(0,0,0,0.6)"},{"offset":0.91,"color":"rgba(0,0,0,0)"},{"offset":0.92,"color":"rgba(0,0,0,0.6)"},{"offset":0.93,"color":"rgba(0,0,0,0)"},{"offset":0.94,"color":"rgba(0,0,0,0.6)"},{"offset":0.95,"color":"rgba(0,0,0,0)"},{"offset":0.96,"color":"rgba(0,0,0,0.6)"},{"offset":0.97,"color":"rgba(0,0,0,0)"},{"offset":0.98,"color":"rgba(0,0,0,0.6)"},{"offset":0.99,"color":"rgba(0,0,0,0)"},{"offset":1,"color":"rgba(0,0,0,0.6)"}]}}}}
]
}
]
}
